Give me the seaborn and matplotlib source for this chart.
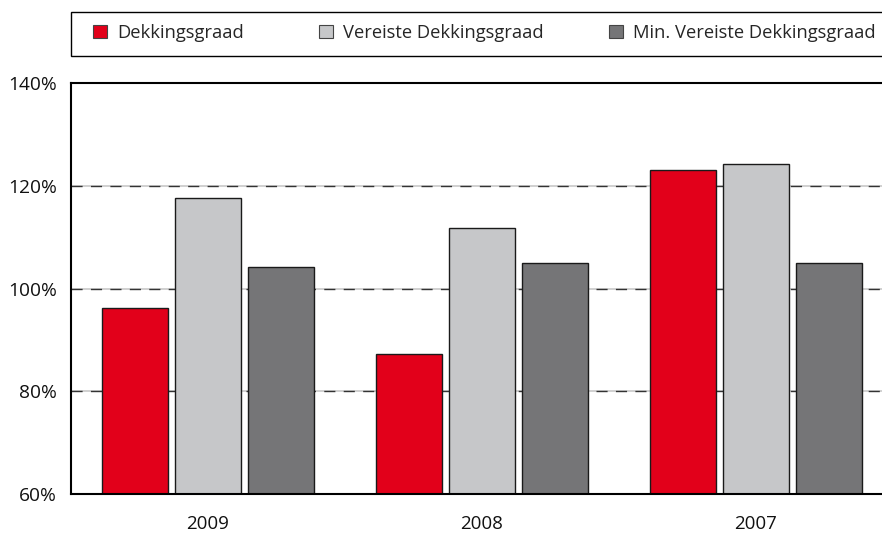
import matplotlib
matplotlib.use("Agg")
import matplotlib.pyplot as plt
from matplotlib.patches import Rectangle, Patch
import seaborn as sns
import pandas as pd

years = ["2009", "2008", "2007"]
series = ["Dekkingsgraad", "Vereiste Dekkingsgraad", "Min. Vereiste Dekkingsgraad"]
dekkingsgraad = [96.2, 87.3, 123.1]
vereiste = [117.6, 111.8, 124.2]
min_vereiste = [104.2, 105.0, 105.0]
colors = ["#E2001A", "#C6C7C9", "#757577"]
yticks = [60, 80, 100, 120, 140]

rows = []
for name, vals in zip(series, [dekkingsgraad, vereiste, min_vereiste]):
    for y, v in zip(years, vals):
        rows.append({"Jaar": y, "Serie": name, "Waarde": v})
df = pd.DataFrame(rows)

sns.set_style("white")
plt.rcParams["font.family"] = ["Open Sans", "DejaVu Sans"]

W, H = 882, 533
fig = plt.figure(figsize=(W / 100, H / 100), dpi=100)
ax = fig.add_axes([71 / W, 1 - 494 / H, (W - 71) / W, (494 - 83) / H])

# gridlines: light grey base with dark dashes
for yv in [80, 100, 120]:
    ax.axhline(yv, color="#C8C8C8", lw=1.2, zorder=0)
    ax.axhline(yv, color="#333333", lw=1.0, dashes=(8, 6), zorder=0.5)

sns.barplot(data=df, x="Jaar", y="Waarde", hue="Serie", order=years,
            hue_order=series, palette=colors, width=0.8, gap=0.1,
            edgecolor="#1a1a1a", linewidth=1.0, saturation=1, legend=False,
            ax=ax, zorder=2)

ax.set_ylim(60, 140)
ax.set_xlim(-0.5, 2 + (W - 756) / 274)
ax.set_yticks(yticks)
ax.set_yticklabels([f"{v}%" for v in yticks])
ax.set_xlabel("")
ax.set_ylabel("")
ax.tick_params(axis="y", length=0, pad=10, labelsize=13.8, labelcolor="#111111")
ax.tick_params(axis="x", length=0, pad=15, labelsize=13.5, labelcolor="#111111")
ax.set_xticks([0.5, 1.5], minor=True)
ax.tick_params(axis="x", which="minor", direction="in", length=10, width=1.5, color="black")

for side in ["left", "bottom", "top"]:
    ax.spines[side].set_visible(True)
    ax.spines[side].set_color("black")
    ax.spines[side].set_linewidth(1.5)
ax.spines["right"].set_visible(False)

# legend box
fig.patches.append(Rectangle((71 / W, 1 - 56 / H), 1.0, 44 / H, transform=fig.transFigure,
                             facecolor="white", edgecolor="black", lw=1.0))
for name, c, x0 in zip(series, colors, [93, 319, 609]):
    fig.legend([Patch(facecolor=c, edgecolor="#444444", lw=0.8)], [name],
               loc="center left", bbox_to_anchor=(x0 / W, 1 - 33 / H),
               frameon=False, fontsize=13.2, handlelength=0.75, handleheight=0.75,
               handletextpad=0.55, borderpad=0, borderaxespad=0)

fig.savefig("out.png", dpi=100)
